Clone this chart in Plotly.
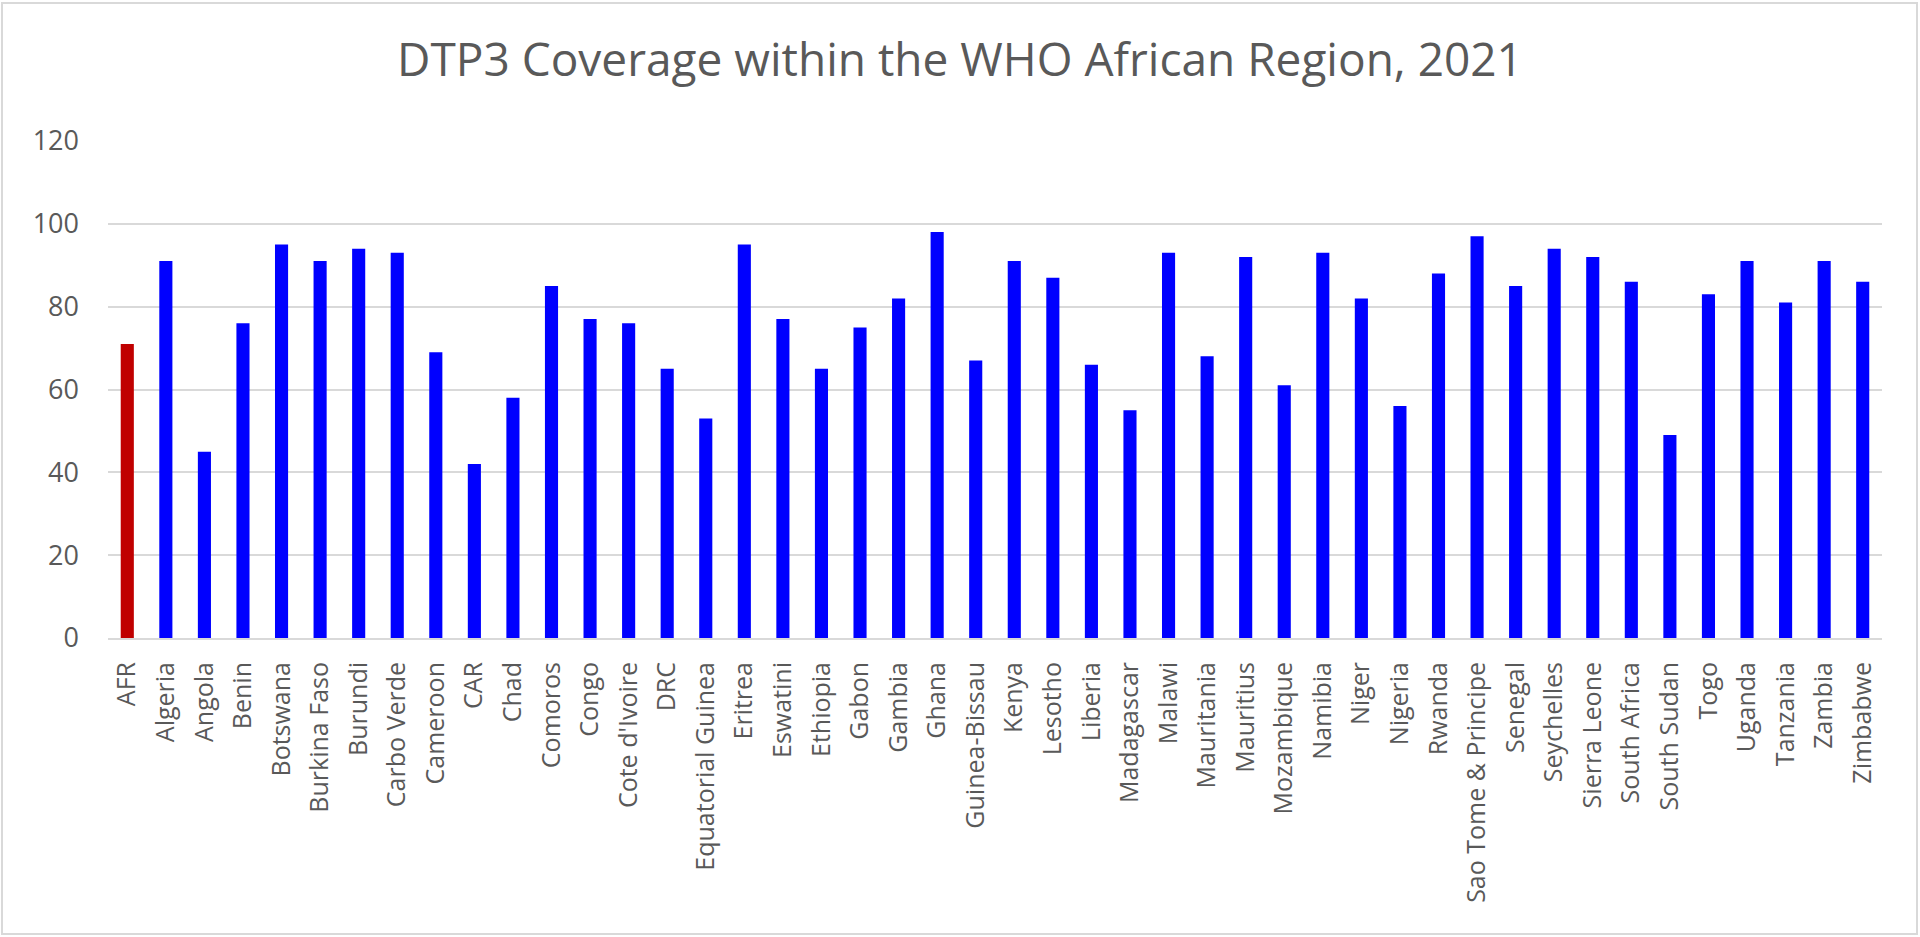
import plotly.graph_objects as go

countries = ["AFR", "Algeria", "Angola", "Benin", "Botswana", "Burkina Faso", "Burundi",
             "Carbo Verde", "Cameroon", "CAR", "Chad", "Comoros", "Congo", "Cote d'Ivoire",
             "DRC", "Equatorial Guinea", "Eritrea", "Eswatini", "Ethiopia", "Gabon", "Gambia",
             "Ghana", "Guinea-Bissau", "Kenya", "Lesotho", "Liberia", "Madagascar", "Malawi",
             "Mauritania", "Mauritius", "Mozambique", "Namibia", "Niger", "Nigeria", "Rwanda",
             "Sao Tome & Principe", "Senegal", "Seychelles", "Sierra Leone", "South Africa",
             "South Sudan", "Togo", "Uganda", "Tanzania", "Zambia", "Zimbabwe"]
coverage = [71, 91, 45, 76, 95, 91, 94,
            93, 69, 42, 58, 85, 77, 76,
            65, 53, 95, 77, 65, 75, 82,
            98, 67, 91, 87, 66, 55, 93,
            68, 92, 61, 93, 82, 56, 88,
            97, 85, 94, 92, 86,
            49, 83, 91, 81, 91, 86]
highlight = "AFR"
y_ticks = [0, 20, 40, 60, 80, 100, 120]

colors = ["#C00000" if c == highlight else "#0000FF" for c in countries]

W, H = 1920, 937
L, R, T, B = 108, 38, 141, 299

fig = go.Figure(go.Bar(x=countries, y=coverage, marker=dict(color=colors, line=dict(width=0)),
                       width=0.34))

pw, ph = W - L - R, H - T - B
def px_x(v):
    return (v - L) / pw
def px_y(v):
    return 1 - (v - T) / ph

fig.update_layout(
    width=W, height=H,
    margin=dict(l=L, r=R, t=T, b=B),
    paper_bgcolor="white", plot_bgcolor="white",
    font=dict(family="Open Sans", color="#595959"),
    title=dict(text="DTP3 Coverage within the WHO African Region, 2021",
               x=0.5, xref="container", xanchor="center", y=1 - 60 / H, yanchor="middle",
               font=dict(size=46, color="#595959", family="Open Sans")),
    showlegend=False,
    shapes=[dict(type="rect", xref="paper", yref="paper",
                 x0=px_x(2), x1=px_x(1917), y0=px_y(934), y1=px_y(3),
                 line=dict(color="#D9D9D9", width=2), fillcolor="rgba(0,0,0,0)", layer="below")],
)
fig.update_xaxes(tickangle=-90, tickfont=dict(size=25, color="#595959"),
                 showgrid=False, showline=True, linecolor="#D9D9D9", linewidth=2,
                 ticks="", ticklabelstandoff=12, fixedrange=True)
fig.update_yaxes(range=[0, 120], tickvals=y_ticks, tickfont=dict(size=27, color="#595959"),
                 showgrid=True, gridcolor="#D9D9D9", gridwidth=1.5, zeroline=False,
                 showline=False, ticks="", ticklabelstandoff=28, fixedrange=True)

fig.write_html("out.html", config={"displayModeBar": False},
               post_script="document.body.style.margin='0';document.body.style.overflow='hidden';")
